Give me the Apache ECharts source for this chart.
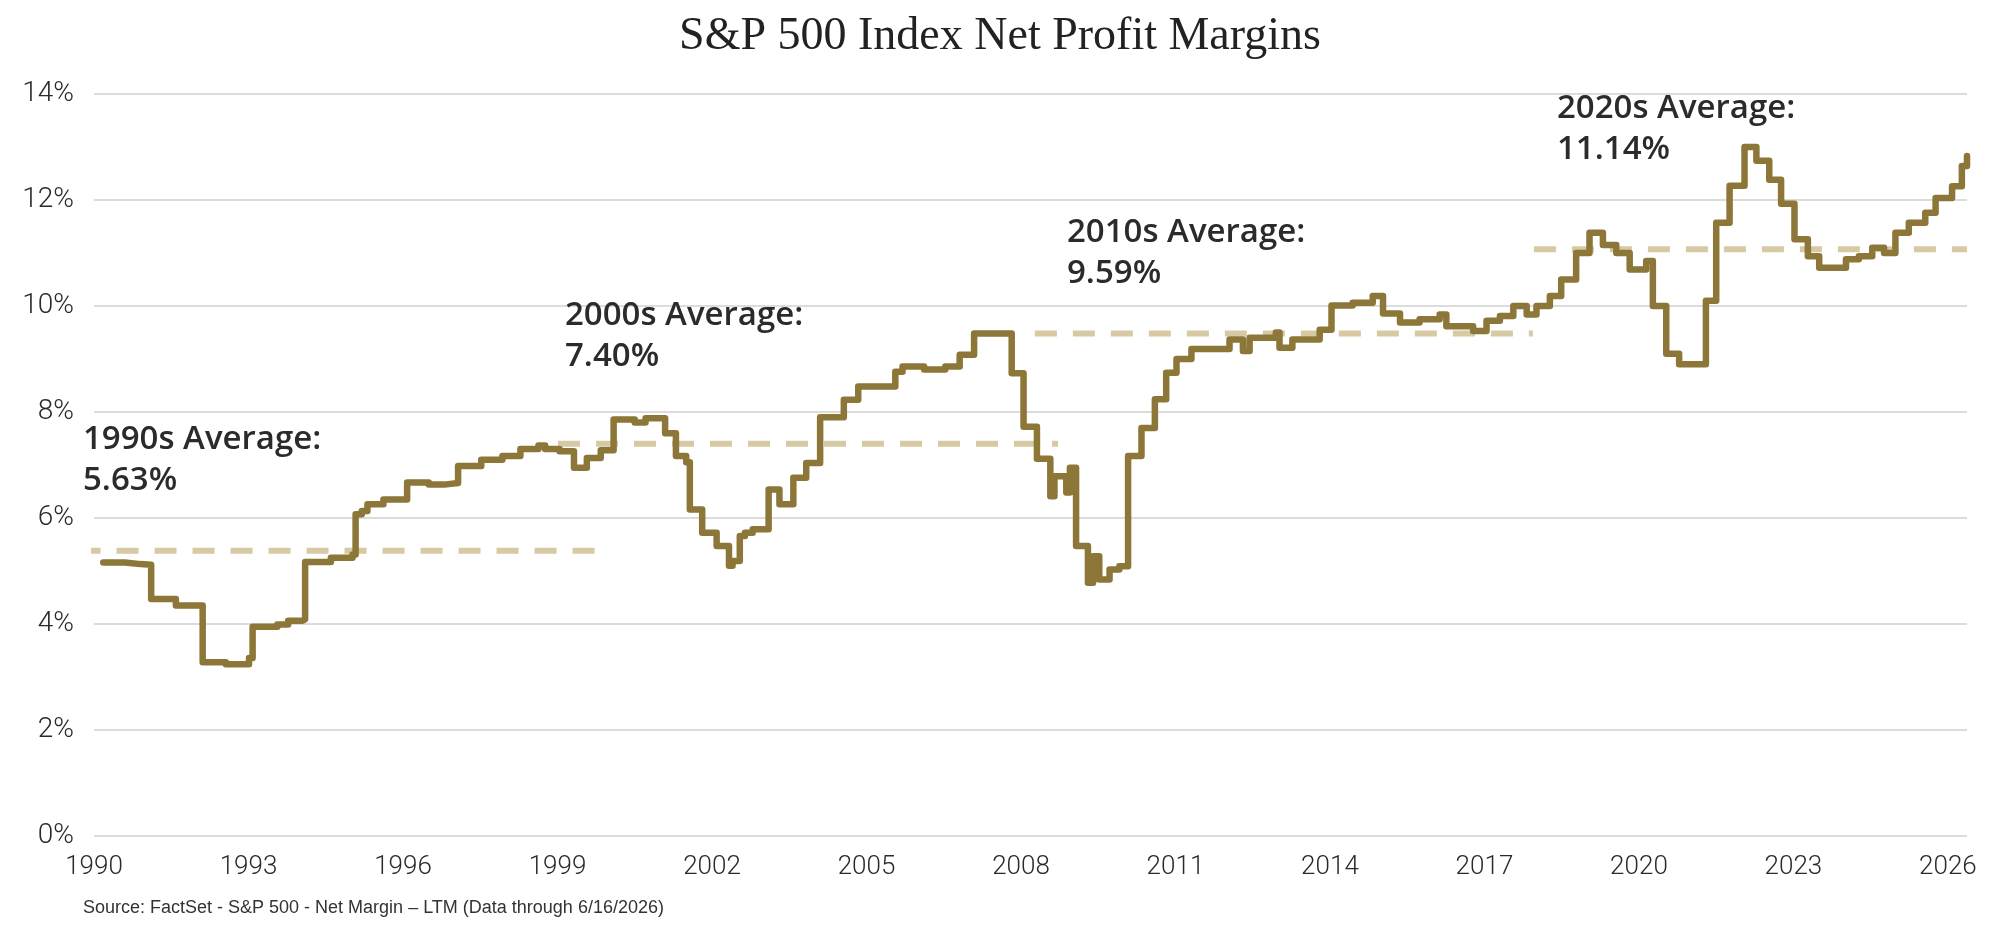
<!DOCTYPE html>
<html>
<head>
<meta charset="utf-8">
<script src="https://cdn.jsdelivr.net/npm/echarts@6/dist/echarts.min.js"></script>
<style>
html,body{margin:0;padding:0;background:#fff;}
#chart{width:2000px;height:934px;}
</style>
</head>
<body>
<div id="chart"></div>
<script>
// ---- Data ----
const dates = [
1990.18,1990.6,1990.9,1991.11,1991.59,1992.11,1992.56,1993.01,1993.08,1993.56,
1993.77,1994.05,1994.10,1994.6,1995.02,1995.08,1995.2,1995.31,1995.62,1996.08,
1996.5,1996.8,1997.07,1997.52,1997.93,1998.28,1998.63,1998.76,1999.04,1999.32,
1999.57,1999.84,2000.09,2000.50,2000.71,2001.09,2001.30,2001.50,2001.57,2001.81,
2002.09,2002.33,2002.40,2002.54,2002.64,2002.79,2003.10,2003.31,2003.58,2003.83,
2004.10,2004.56,2004.84,2005.56,2005.70,2006.12,2006.53,2006.81,2007.09,2007.82,
2008.05,2008.31,2008.57,2008.65,2008.88,2008.95,2009.07,2009.30,2009.40,2009.52,
2009.72,2009.91,2010.08,2010.34,2010.60,2010.82,2011.02,2011.31,2012.05,2012.31,
2012.44,2012.95,2013.02,2013.27,2013.80,2014.03,2014.44,2014.83,2015.03,2015.36,
2015.74,2016.13,2016.26,2016.78,2017.04,2017.30,2017.56,2017.82,2018.01,2018.27,
2018.49,2018.78,2019.04,2019.30,2019.56,2019.82,2020.14,2020.27,2020.53,2020.78,
2021.30,2021.50,2021.76,2022.05,2022.28,2022.53,2022.76,2023.02,2023.28,2023.50,
2024.02,2024.27,2024.53,2024.76,2024.98,2025.24,2025.56,2025.76,2026.08,2026.27,
2026.37
];
const margins = [
5.16,5.13,5.12,4.47,4.35,3.28,3.24,3.36,3.95,3.99,
4.06,4.09,5.17,5.25,5.31,6.07,6.13,6.26,6.35,6.67,
6.63,6.66,6.98,7.10,7.17,7.30,7.37,7.30,7.26,6.95,
7.13,7.28,7.86,7.80,7.88,7.60,7.17,7.05,6.16,5.72,
5.47,5.10,5.19,5.66,5.72,5.79,6.54,6.26,6.76,7.04,
7.90,8.23,8.48,8.76,8.86,8.80,8.86,9.08,9.48,8.73,
7.72,7.12,6.41,6.79,6.48,6.95,5.47,4.78,5.28,4.84,
5.03,5.09,7.17,7.70,8.24,8.74,9.00,9.19,9.37,9.15,
9.40,9.50,9.21,9.37,9.55,10.01,10.06,10.19,9.86,9.69,
9.75,9.84,9.62,9.53,9.72,9.81,10.00,9.84,10.00,10.19,
10.50,11.00,11.38,11.15,11.00,10.69,10.85,10.00,9.10,8.90,
10.10,11.57,12.27,13.00,12.74,12.38,11.93,11.26,10.94,10.72,
10.88,10.94,11.10,11.00,11.38,11.57,11.76,12.04,12.26,12.64,
12.83
];
const decadeNames = ['1990s Average:', '2000s Average:', '2010s Average:', '2020s Average:'];
const decadeAverages = ['5.63%', '7.40%', '9.59%', '11.14%'];
const decadeLineLevels = [5.38, 7.40, 9.48, 11.07];
const decadeLineStart = [1989.7, 1999.01, 2008.27, 2017.96];
const decadeLineEnd = [1999.78, 2008.72, 2017.94, 2026.37];
const xTickYears = [1990,1993,1996,1999,2002,2005,2008,2011,2014,2017,2020,2023,2026];
const yTicks = [0,2,4,6,8,10,12,14];

const titleText = 'S&P 500 Index Net Profit Margins';
const sourceText = 'Source: FactSet - S&P 500 - Net Margin \u2013 LTM (Data through 6/16/2026)';

// ---- Chart ----
const chart = echarts.init(document.getElementById('chart'), null, {renderer: 'canvas'});

const lineColor = '#8c7638';
const dashColor = '#d7c9a4';
const axisFont = 'Roboto, Lato, "Open Sans", sans-serif';
const annFont = '"Open Sans", Lato, sans-serif';

const decadeSeries = decadeLineLevels.map((lvl, i) => ({
  type: 'line',
  name: decadeNames[i],
  data: [[decadeLineStart[i], lvl], [decadeLineEnd[i], lvl]],
  showSymbol: false,
  symbol: 'none',
  clip: false,
  silent: true,
  z: 2,
  lineStyle: {color: dashColor, width: 6, type: [22, 16], cap: 'butt'}
}));

// annotation placement (pixel layout, not data)
const annPos = [[83, 419], [565, 295], [1067, 212], [1557, 88]];
const annGraphics = decadeNames.map((n, i) => ({
  type: 'text',
  left: annPos[i][0],
  top: annPos[i][1],
  silent: true,
  z: 10,
  style: {
    text: n + '\n' + decadeAverages[i],
    font: '600 33px ' + annFont,
    fill: '#2b2b2b',
    lineHeight: 41
  }
}));

const option = {
  animation: false,
  backgroundColor: '#ffffff',
  title: {
    text: titleText,
    left: 'center',
    top: 9,
    textStyle: {
      fontFamily: '"Liberation Serif", "DejaVu Serif", serif',
      fontSize: 46,
      fontWeight: 'normal',
      color: '#222222'
    }
  },
  grid: {left: 94, right: 33, top: 94, bottom: 98, containLabel: false},
  xAxis: {
    type: 'value',
    min: 1990,
    max: 2026.37,
    interval: 3,
    axisLine: {show: false},
    axisTick: {show: false},
    splitLine: {show: false},
    axisLabel: {
      margin: 18,
      fontSize: 26,
      fontFamily: axisFont,
      fontWeight: 300,
      color: '#2a2a2a',
      formatter: function (v) {
        const r = Math.round(v);
        return (Math.abs(v - r) < 1e-6 && xTickYears.indexOf(r) >= 0) ? String(r) : '';
      }
    }
  },
  yAxis: {
    type: 'value',
    min: yTicks[0],
    max: yTicks[yTicks.length - 1],
    interval: 2,
    axisLine: {show: false},
    axisTick: {show: false},
    splitLine: {lineStyle: {color: '#dcdcdc', width: 2}},
    axisLabel: {
      margin: 20,
      fontSize: 28,
      fontFamily: axisFont,
      fontWeight: 300,
      color: '#2a2a2a',
      formatter: '{value}%'
    }
  },
  series: decadeSeries.concat([{
    type: 'line',
    name: 'Net Margin',
    data: dates.map((d, i) => [d, margins[i]]),
    step: 'end',
    showSymbol: false,
    symbol: 'none',
    z: 3,
    lineStyle: {color: lineColor, width: 6.5, join: 'round', cap: 'round'}
  }]),
  graphic: annGraphics.concat([{
    type: 'text',
    left: 83,
    top: 899,
    silent: true,
    style: {
      text: sourceText,
      font: '18px "Liberation Sans Narrow", "Arial Narrow", "Liberation Sans", sans-serif',
      fill: '#333333'
    }
  }])
};

chart.setOption(option);
</script>
</body>
</html>
